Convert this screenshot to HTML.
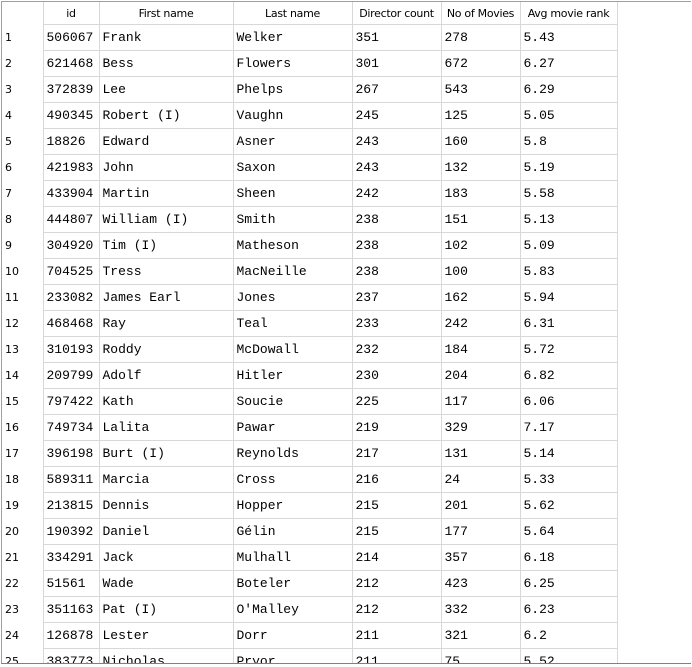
<!DOCTYPE html>
<html><head><meta charset="utf-8"><style>
body{margin:0;width:692px;height:667px;overflow:hidden;background:#fff;position:relative}
#frame{position:absolute;left:1px;top:1px;width:690px;height:663px;border-left:1px solid #a0a0a0;border-top:1px solid #a0a0a0;border-bottom:1px solid #808080;overflow:hidden;box-sizing:border-box}
table{border-collapse:collapse;table-layout:fixed;position:absolute;left:-1px;top:-2px}
td,th{height:25px;padding:0 0 0 3px;white-space:nowrap;overflow:hidden}
th{font:11px "DejaVu Sans","Liberation Sans",sans-serif;font-weight:normal;color:#000;text-align:center;border-right:1px solid #d8d8d8;height:24px;padding:0;vertical-align:top;line-height:20px;letter-spacing:-0.3px}
th span{position:relative;top:4px}
td{font:13px "Liberation Mono",monospace;color:#000;border:1px solid #d8d8d8;border-left:none;padding-bottom:1px;height:24px}
td.n{font:11px "DejaVu Sans","Liberation Sans",sans-serif;border:none;border-right:1px solid #d8d8d8;padding-left:4px}
tr.h th:first-child{border-right:1px solid #d8d8d8}
</style></head><body>
<div id="frame">
<table>
<colgroup><col style="width:42px"><col style="width:56px"><col style="width:134px"><col style="width:119px"><col style="width:89px"><col style="width:79px"><col style="width:97px"></colgroup>
<tbody id="tb">
<tr class="h"><th></th><th><span>id</span></th><th><span>First name</span></th><th><span>Last name</span></th><th><span>Director count</span></th><th><span>No of Movies</span></th><th><span>Avg movie rank</span></th></tr>
</tbody></table></div>
<script>
const rows=[
["506067","Frank","Welker","351","278","5.43"],
["621468","Bess","Flowers","301","672","6.27"],
["372839","Lee","Phelps","267","543","6.29"],
["490345","Robert (I)","Vaughn","245","125","5.05"],
["18826","Edward","Asner","243","160","5.8"],
["421983","John","Saxon","243","132","5.19"],
["433904","Martin","Sheen","242","183","5.58"],
["444807","William (I)","Smith","238","151","5.13"],
["304920","Tim (I)","Matheson","238","102","5.09"],
["704525","Tress","MacNeille","238","100","5.83"],
["233082","James Earl","Jones","237","162","5.94"],
["468468","Ray","Teal","233","242","6.31"],
["310193","Roddy","McDowall","232","184","5.72"],
["209799","Adolf","Hitler","230","204","6.82"],
["797422","Kath","Soucie","225","117","6.06"],
["749734","Lalita","Pawar","219","329","7.17"],
["396198","Burt (I)","Reynolds","217","131","5.14"],
["589311","Marcia","Cross","216","24","5.33"],
["213815","Dennis","Hopper","215","201","5.62"],
["190392","Daniel","Gélin","215","177","5.64"],
["334291","Jack","Mulhall","214","357","6.18"],
["51561","Wade","Boteler","212","423","6.25"],
["351163","Pat (I)","O'Malley","212","332","6.23"],
["126878","Lester","Dorr","211","321","6.2"],
["383773","Nicholas","Pryor","211","75","5.52"]];
const names=["id-cell","first-name-cell","last-name-cell","director-count-cell","movies-cell","avg-rank-cell"];
const tb=document.getElementById('tb');
rows.forEach((r,i)=>{
 const tr=document.createElement('tr');
 
 
 const n=document.createElement('td');n.className='n';n.textContent=i+1;
 
 
 tr.appendChild(n);
 r.forEach((v,j)=>{const td=document.createElement('td');td.textContent=v.replace(/ /g,'\u00a0');
 
 
 tr.appendChild(td);});
 tb.appendChild(tr);
});
</script>
</body></html>
